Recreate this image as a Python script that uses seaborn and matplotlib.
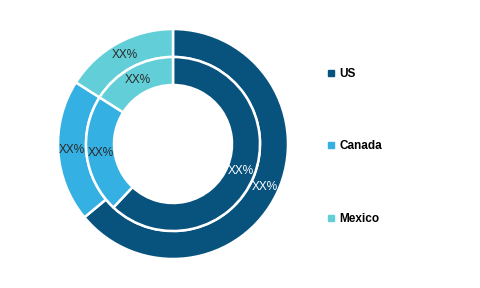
import matplotlib
matplotlib.use("Agg")
import matplotlib.pyplot as plt
from matplotlib.lines import Line2D
import numpy as np
import seaborn as sns

countries = ["US", "Canada", "Mexico"]
outer_share = [64, 20, 16]
inner_share = [62, 22, 16]
label_text = ["XX%", "XX%", "XX%"]
colors = ["#08527e", "#35b0e3", "#62cfd8"]
text_colors = ["#ffffff", "#2a2a2a", "#2a2a2a"]

sns.set_theme(style="white")
plt.rcParams["font.family"] = ["Liberation Sans", "DejaVu Sans"]
palette = sns.color_palette(colors)

fig = plt.figure(figsize=(4.8, 2.88), dpi=100)
ax = fig.add_axes([58 / 480, 29 / 288, 230 / 480, 230 / 288])

R = 1.0
ow = 28 / 115
iw = 28 / 115
w1, _ = ax.pie(outer_share, radius=R, colors=palette, startangle=90,
               counterclock=False,
               wedgeprops=dict(width=ow, edgecolor="white", linewidth=1.8))
w2, _ = ax.pie(inner_share, radius=R - ow, colors=palette, startangle=90,
               counterclock=False,
               wedgeprops=dict(width=iw, edgecolor="white", linewidth=1.8))


def place(wedges, r):
    for w, t, c in zip(wedges, label_text, text_colors):
        ang = np.deg2rad((w.theta1 + w.theta2) / 2)
        ax.text(r * np.cos(ang), r * np.sin(ang), t, ha="center", va="center",
                fontsize=8.5, color=c)


place(w1, R - ow / 2)
place(w2, R - ow - iw / 2)

ax.set_xlim(-1, 1)
ax.set_ylim(-1, 1)
ax.set_aspect("equal")
ax.axis("off")

handles = [Line2D([0], [0], marker="s", linestyle="", markersize=4.5,
                  markerfacecolor=c, markeredgecolor=c) for c in palette]
leg = fig.legend(handles, countries, loc="upper left",
                 bbox_to_anchor=(322 / 480, 1 - 63.5 / 288), frameon=False,
                 prop=dict(size=8.5, weight="bold"), labelspacing=5.1,
                 handlelength=0.8, handletextpad=0.3, borderaxespad=0,
                 labelcolor="black")

fig.savefig("out.png", dpi=100)
